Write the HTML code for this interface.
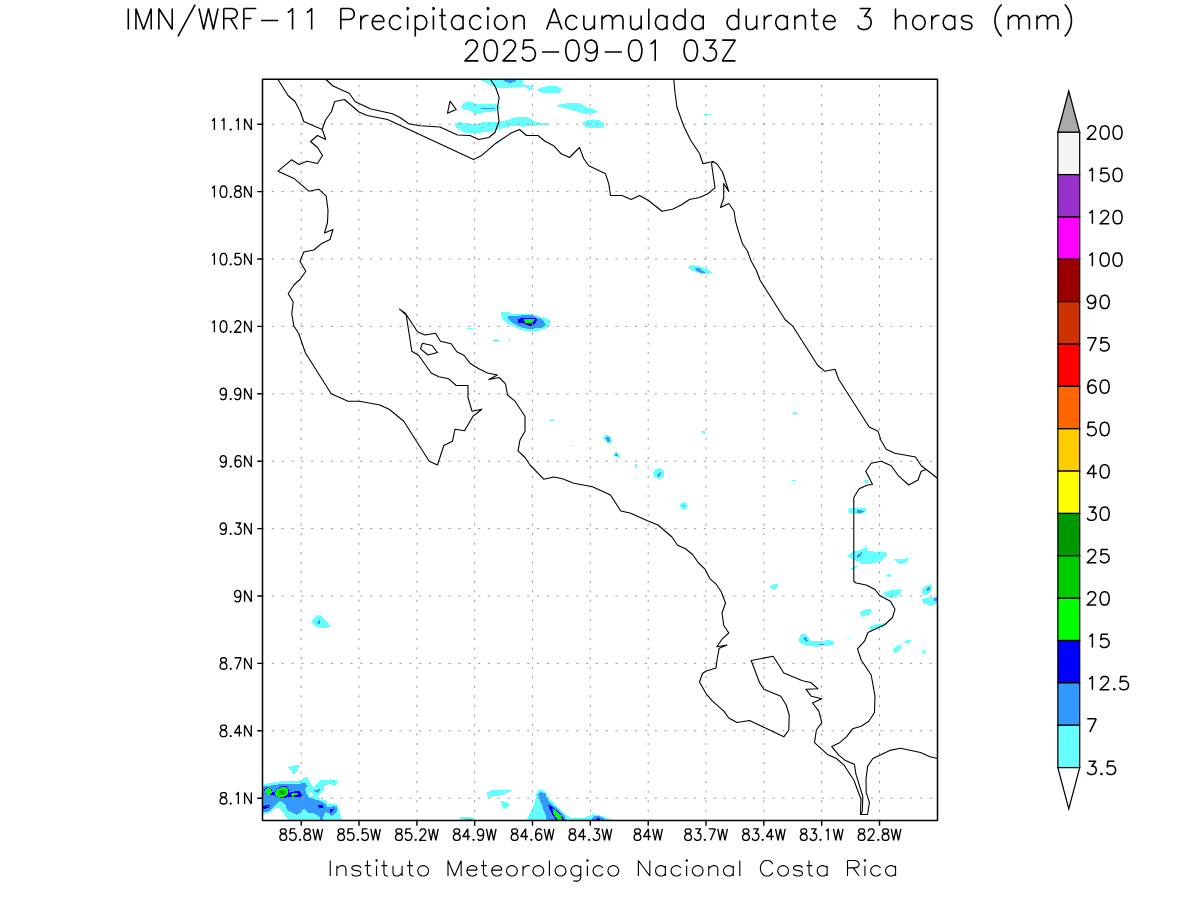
<!DOCTYPE html>
<html><head><meta charset="utf-8"><title>IMN/WRF-11 Precipitacion</title>
<style>html,body{margin:0;padding:0;background:#fff}svg{display:block}text{font-family:"Liberation Sans",sans-serif;fill:#000;fill-opacity:0}.h{fill:none;stroke-linecap:butt;stroke-linejoin:round}</style></head>
<body>
<svg width="1200" height="900" viewBox="0 0 1200 900">
<rect width="1200" height="900" fill="#fff"/>
<defs><clipPath id="c"><rect x="262.5" y="79.3" width="675" height="741.2"/></clipPath></defs>
<g clip-path="url(#c)" shape-rendering="crispEdges">
<path d="M479.7,79.5 L523.2,79.5 L522.2,84.3 L532.2,85.8 L532.7,90.0 L528.5,89.5 L524.0,86.2 L510.5,87.7 L497.7,87.7 L488.0,84.3Z" fill="#66ffff"/>
<path d="M502.2,79.5 L517.2,79.5 L515.0,81.7 L510.5,82.8 L506.0,82.2Z" fill="#3399ff"/>
<path d="M537.2,89.5 L542.0,86.7 L557.0,86.0 L560.7,88.5 L561.8,91.2 L558.5,93.4 L545.0,93.4 L539.7,91.8Z" fill="#66ffff"/>
<path d="M461.0,106.5 L464.0,102.7 L469.2,101.2 L475.2,103.5 L495.5,104.2 L500.0,106.5 L500.0,108.7 L495.5,111.0 L483.5,112.5 L475.2,114.7 L471.5,111.0 L462.5,108.7Z" fill="#66ffff"/>
<path d="M481.2,107.8 L494.7,107.8 L494.7,108.8 L481.2,108.8Z" fill="#3399ff"/>
<path d="M556.2,105.0 L567.5,103.0 L579.5,103.5 L587.0,107.2 L598.0,111.0 L594.5,113.2 L584.0,113.7 L575.0,111.0 L564.5,108.0 L558.5,106.8Z" fill="#66ffff"/>
<path d="M454.2,123.7 L459.5,122.2 L476.0,124.5 L485.0,121.5 L500.0,121.5 L507.5,120.0 L515.0,117.4 L527.0,117.0 L531.5,119.2 L536.0,122.2 L548.0,123.3 L548.3,125.2 L530.0,125.7 L524.0,126.7 L512.0,126.0 L500.0,129.0 L491.0,131.2 L474.5,133.5 L464.0,132.3 L456.5,127.5Z" fill="#66ffff"/>
<path d="M581.7,123.0 L586.2,120.3 L599.0,120.0 L603.5,123.0 L604.7,126.3 L599.0,128.2 L590.0,128.5 L584.0,126.0Z" fill="#66ffff"/>
<path d="M494.0,143.2 L500.0,142.0 L497.7,144.3Z" fill="#66ffff"/>
<path d="M704.0,113.5 L711.0,113.5 L711.0,115.0 L704.0,115.0Z" fill="#66ffff"/>
<path d="M481.8,127.0 L483.0,127.0 L483.0,128.2 L481.8,128.2Z" fill="#3399ff"/>
<path d="M687.0,267.0 L693.0,265.0 L700.0,266.5 L708.0,269.5 L712.0,272.5 L708.0,274.3 L700.0,273.7 L692.0,270.5Z" fill="#66ffff"/>
<path d="M695.0,267.5 L699.0,268.0 L705.0,272.5 L701.0,272.8 L696.0,270.5Z" fill="#3399ff"/>
<path d="M501.0,312.0 L508.0,312.0 L510.7,313.7 L532.7,314.0 L539.3,316.3 L546.7,318.3 L550.7,321.3 L550.0,325.3 L546.7,328.0 L540.0,330.7 L523.3,330.7 L515.3,327.3 L506.7,323.3 L502.7,319.3 L501.0,315.3Z" fill="#66ffff"/>
<path d="M508.0,316.3 L520.7,316.0 L521.3,315.0 L532.7,315.2 L536.7,317.3 L542.0,319.0 L546.0,324.7 L543.3,327.3 L530.0,329.0 L523.3,328.0 L516.7,324.7 L511.3,322.0 L508.0,318.7Z" fill="#3399ff"/>
<path d="M518.0,319.3 L520.7,318.0 L535.3,318.0 L537.0,319.7 L536.0,322.7 L533.3,325.7 L528.7,325.7 L524.7,324.0 L522.0,322.7 L518.0,322.7Z" fill="#0000ff"/>
<path d="M524.0,319.3 L535.0,319.1 L532.0,323.0 L525.0,323.0Z" fill="#00ff00"/>
<path d="M467.0,327.7 L472.5,327.7 L472.5,329.0 L467.0,329.0Z" fill="#66ffff"/>
<path d="M493.0,340.0 L496.0,338.8 L499.2,340.0 L499.2,341.8 L493.0,341.8Z" fill="#66ffff"/>
<path d="M508.7,338.7 L510.0,338.7 L510.0,341.3 L508.7,341.3Z" fill="#66ffff"/>
<path d="M550.0,420.0 L552.0,419.0 L554.2,419.5 L554.2,421.0 L550.0,421.0Z" fill="#66ffff"/>
<path d="M603.0,437.0 L606.0,435.0 L610.0,436.0 L612.0,440.0 L611.0,443.7 L607.0,443.0 L604.0,440.0Z" fill="#66ffff"/>
<path d="M605.5,437.0 L608.0,436.5 L610.5,439.0 L610.0,442.5 L607.0,441.5Z" fill="#3399ff"/>
<path d="M571.7,444.5 L574.2,444.5 L574.2,445.7 L571.7,445.7Z" fill="#66ffff"/>
<path d="M613.0,454.0 L616.5,451.7 L619.0,454.0 L620.0,458.2 L617.0,457.0 L614.0,456.0Z" fill="#66ffff"/>
<path d="M615.0,454.5 L616.7,453.0 L618.0,456.2 L615.5,456.0Z" fill="#3399ff"/>
<path d="M635.0,463.7 L637.0,463.7 L637.0,467.5 L635.0,467.5Z" fill="#66ffff"/>
<path d="M653.0,473.0 L655.0,469.5 L659.0,468.0 L663.0,470.0 L664.5,474.0 L662.5,477.5 L658.0,478.7 L654.5,477.0Z" fill="#66ffff"/>
<path d="M657.0,475.5 L660.5,471.5 L661.2,473.0 L658.5,477.0Z" fill="#3399ff"/>
<path d="M680.0,505.0 L681.5,503.0 L684.0,502.3 L686.3,503.0 L687.6,505.5 L687.0,507.8 L685.0,509.2 L682.5,509.2 L680.6,507.8Z" fill="#66ffff"/>
<path d="M682.5,505.0 L685.0,505.0 L685.0,506.2 L682.5,506.2Z" fill="#3399ff"/>
<path d="M701.2,431.5 L704.0,430.7 L705.7,432.0 L704.5,433.7 L702.0,433.0Z" fill="#66ffff"/>
<path d="M792.0,413.5 L794.5,412.0 L798.0,413.5 L795.0,415.0Z" fill="#66ffff"/>
<path d="M792.0,479.5 L796.2,479.5 L796.2,480.7 L792.0,480.7Z" fill="#66ffff"/>
<path d="M769.2,587.0 L773.0,584.5 L777.5,583.7 L777.5,587.0 L774.0,590.7 L772.0,588.5Z" fill="#66ffff"/>
<path d="M863.7,479.5 L868.0,480.0 L868.2,483.0 L865.0,482.5Z" fill="#66ffff"/>
<path d="M847.0,511.0 L850.0,508.0 L865.7,507.5 L865.7,512.0 L862.0,514.2 L850.0,514.0Z" fill="#66ffff"/>
<path d="M856.5,510.5 L861.0,510.0 L863.7,511.5 L861.0,513.0 L857.0,512.5Z" fill="#3399ff"/>
<path d="M847.0,555.5 L853.0,551.5 L860.0,550.0 L867.0,546.2 L868.0,551.0 L886.0,552.5 L887.5,555.0 L880.0,561.0 L870.0,564.5 L862.0,564.0 L857.0,561.0 L850.0,558.0Z" fill="#66ffff"/>
<path d="M856.2,556.0 L862.0,552.0 L861.0,556.0 L857.5,557.5Z" fill="#3399ff"/>
<path d="M849.5,568.5 L854.0,567.0 L858.0,565.0 L855.0,569.0 L852.0,570.0Z" fill="#66ffff"/>
<path d="M893.7,559.5 L902.0,559.0 L909.2,558.0 L907.0,562.0 L901.0,564.2 L897.0,563.0Z" fill="#66ffff"/>
<path d="M886.2,575.5 L890.0,573.7 L892.0,575.0 L890.0,576.7 L887.0,577.0Z" fill="#66ffff"/>
<path d="M882.0,593.0 L890.0,590.5 L900.5,589.2 L901.2,592.0 L897.0,596.5 L891.0,598.7 L886.0,596.0Z" fill="#66ffff"/>
<path d="M921.7,590.0 L926.0,586.0 L931.0,584.2 L932.5,588.0 L930.0,592.5 L925.0,595.5 L922.5,594.0Z" fill="#66ffff"/>
<path d="M926.0,589.5 L929.5,586.7 L930.5,588.0 L928.0,592.0Z" fill="#3399ff"/>
<path d="M922.0,599.0 L928.0,597.5 L937.0,596.2 L937.0,604.0 L930.0,605.0 L923.0,604.0Z" fill="#66ffff"/>
<path d="M933.7,598.5 L937.0,597.5 L937.0,601.2 L934.0,600.5Z" fill="#3399ff"/>
<path d="M860.0,612.5 L864.0,609.7 L871.0,608.7 L872.0,612.0 L868.0,615.0 L862.0,616.7Z" fill="#66ffff"/>
<path d="M869.2,627.0 L875.0,624.5 L885.5,623.2 L884.0,626.0 L877.0,629.0 L871.0,630.5Z" fill="#66ffff"/>
<path d="M798.7,638.0 L801.0,634.5 L804.5,633.7 L808.0,636.0 L811.0,641.0 L818.0,641.5 L829.0,640.0 L833.7,641.0 L833.7,645.0 L826.0,646.0 L815.0,646.7 L806.0,645.5 L800.0,642.5Z" fill="#66ffff"/>
<path d="M803.7,637.0 L806.0,636.7 L808.0,641.0 L806.0,642.0 L804.5,639.5Z" fill="#3399ff"/>
<path d="M818.7,643.7 L823.7,643.7 L823.7,645.0 L818.7,645.0Z" fill="#3399ff"/>
<path d="M904.2,641.5 L907.0,639.7 L910.7,640.2 L909.0,643.0 L905.5,643.7Z" fill="#66ffff"/>
<path d="M893.0,649.0 L896.0,646.5 L901.7,644.2 L901.0,648.5 L897.0,652.0 L894.0,653.0Z" fill="#66ffff"/>
<path d="M921.7,652.5 L925.0,650.0 L925.7,652.5 L923.0,654.2Z" fill="#66ffff"/>
<path d="M798.7,638.2 L800.0,638.2 L800.0,642.0 L798.7,642.0Z" fill="#66ffff"/>
<path d="M846.7,638.0 L849.2,638.0 L849.2,638.8 L846.7,638.8Z" fill="#66ffff"/>
<path d="M311.2,622.0 L315.0,617.0 L318.2,615.0 L322.0,616.5 L329.0,624.0 L330.0,626.5 L326.0,628.0 L320.0,628.0 L315.0,626.0Z" fill="#66ffff"/>
<path d="M316.7,622.5 L320.0,620.0 L320.5,623.7 L318.0,623.5Z" fill="#3399ff"/>
<path d="M486.7,792.5 L493.3,789.7 L513.0,790.0 L508.3,792.5 L501.7,795.3 L488.3,797.0 L486.3,794.2Z" fill="#66ffff"/>
<path d="M500.8,801.3 L506.7,801.7 L510.0,805.3 L504.2,808.8 L501.3,805.0Z" fill="#66ffff"/>
<path d="M460.0,817.0 L473.0,817.5 L475.0,820.0 L460.0,820.0Z" fill="#66ffff"/>
<path d="M465.0,818.7 L471.7,818.7 L472.0,820.0 L465.0,820.0Z" fill="#3399ff"/>
<path d="M526.7,820.0 L531.7,810.0 L535.8,798.3 L536.7,791.7 L540.0,789.2 L545.0,791.7 L549.2,798.3 L558.3,808.3 L566.7,815.0 L571.7,818.3 L583.3,818.0 L593.3,814.2 L601.7,815.8 L613.3,820.0Z" fill="#66ffff"/>
<path d="M538.0,794.2 L540.8,792.0 L545.3,793.8 L548.3,800.8 L557.5,809.2 L564.7,816.3 L566.0,820.0 L546.7,820.0 L546.0,816.0 L541.7,805.0 L538.3,795.0Z" fill="#3399ff"/>
<path d="M547.8,804.7 L550.8,805.8 L560.0,813.3 L564.2,820.0 L555.8,820.0 L550.8,811.7Z" fill="#0000ff"/>
<path d="M552.2,808.8 L555.8,810.5 L560.8,815.8 L562.0,820.0 L557.5,820.0 L553.3,813.3Z" fill="#00ff00"/>
<path d="M591.7,820.0 L593.3,816.7 L598.3,815.8 L605.0,819.2 L605.5,820.0Z" fill="#3399ff"/>
<path d="M596.3,818.7 L599.2,817.5 L600.8,820.0 L596.5,820.0Z" fill="#0000ff"/>
<path d="M261.7,785.4 L267.5,783.3 L275.8,782.1 L280.0,781.2 L296.7,781.0 L301.7,780.0 L305.0,777.1 L307.9,777.5 L309.2,780.8 L311.7,785.0 L314.2,787.1 L318.3,781.7 L321.7,779.6 L328.3,780.0 L330.8,779.2 L336.7,780.4 L337.1,784.2 L333.3,785.8 L330.0,783.8 L325.8,785.0 L323.3,786.7 L324.2,790.0 L320.0,793.3 L318.3,796.7 L320.8,800.0 L325.8,800.0 L327.5,803.3 L331.7,804.2 L335.0,803.3 L338.3,805.8 L338.8,810.8 L340.8,815.8 L342.5,820.4 L288.3,820.4 L285.8,816.7 L282.5,811.7 L278.3,808.3 L275.0,808.3 L270.8,811.7 L263.3,815.0 L261.7,815.8Z" fill="#66ffff"/>
<path d="M261.7,787.1 L265.0,786.2 L271.7,785.4 L280.0,784.2 L296.7,784.2 L301.7,783.3 L306.2,783.2 L306.7,786.7 L305.0,790.0 L306.7,794.2 L309.2,797.5 L313.3,799.2 L318.3,800.0 L325.0,803.3 L326.7,806.7 L330.0,807.5 L333.3,805.4 L337.1,807.5 L337.1,811.7 L334.2,814.2 L331.7,815.8 L328.3,813.3 L325.8,811.2 L323.3,816.7 L322.5,820.4 L320.8,820.4 L319.2,815.8 L313.3,813.3 L308.3,813.3 L304.2,808.3 L300.0,813.3 L296.7,814.6 L291.7,812.5 L287.5,810.0 L285.0,804.2 L282.5,801.7 L279.2,801.2 L275.0,805.0 L270.8,809.6 L267.5,812.1 L261.7,812.5Z" fill="#3399ff"/>
<path d="M307.9,793.3 L310.4,792.1 L312.9,793.8 L312.5,795.8 L309.6,796.2Z" fill="#ffffff"/>
<path d="M314.2,790.4 L319.6,789.2 L320.0,790.8 L317.1,792.9Z" fill="#3399ff"/>
<path d="M332.9,781.0 L333.8,781.0 L333.8,782.0 L332.9,782.0Z" fill="#3399ff"/>
<path d="M264.2,789.2 L267.5,787.2 L271.2,788.8 L272.5,791.7 L275.0,791.7 L276.8,789.0 L280.8,786.4 L286.7,786.4 L288.5,789.2 L289.0,792.9 L294.2,791.4 L300.0,791.4 L302.9,796.2 L293.3,797.5 L288.3,796.5 L283.8,798.2 L278.8,797.3 L274.6,795.4 L272.5,794.6 L269.2,795.4 L265.0,793.3Z" fill="#0000ff"/>
<path d="M265.0,789.6 L267.5,787.9 L270.4,789.2 L272.1,792.1 L270.0,794.6 L267.1,794.6 L265.2,792.1Z" fill="#00ff00"/>
<path d="M275.0,792.5 L277.1,789.2 L281.7,787.1 L286.2,787.5 L287.9,790.0 L288.3,792.9 L285.8,795.8 L281.7,797.3 L278.8,796.7 L275.4,795.0Z" fill="#00ff00"/>
<path d="M277.1,792.5 L279.2,790.0 L282.5,788.8 L285.4,790.0 L286.2,792.9 L283.8,795.4 L280.0,795.4Z" fill="#00cc00"/>
<path d="M279.2,792.1 L281.7,790.4 L284.2,791.2 L284.6,793.3 L281.7,794.6Z" fill="#009900"/>
<path d="M290.8,793.8 L294.2,792.5 L295.8,793.3 L298.8,793.2 L296.7,794.6 L293.3,795.7 L292.5,797.1 L291.7,795.4Z" fill="#00ff00"/>
<path d="M261.7,806.7 L265.8,805.0 L270.0,805.4 L268.3,807.9 L265.0,808.8 L261.7,808.3Z" fill="#0000ff"/>
<path d="M266.9,806.5 L267.5,805.9 L268.1,806.5 L267.5,807.1Z" fill="#00ff00"/>
<path d="M317.9,805.2 L322.9,805.0 L322.5,807.5 L320.0,807.9 L318.3,806.7Z" fill="#0000ff"/>
<path d="M330.0,809.3 L334.0,809.0 L332.1,811.7 L330.0,813.2Z" fill="#0000ff"/>
<path d="M287.9,767.5 L290.8,766.2 L295.8,765.2 L300.0,765.0 L298.3,768.8 L296.7,772.1 L295.0,773.8 L292.5,773.8 L291.7,770.8 L289.2,769.6Z" fill="#66ffff"/>
</g>
<g stroke="#9c9c9c" stroke-width="1" fill="none">
<path d="M262.0,124.2H937.5" stroke-dasharray="2.2 7.6187"/>
<path d="M262.0,191.6H937.5" stroke-dasharray="2.2 7.6187"/>
<path d="M262.0,259.0H937.5" stroke-dasharray="2.2 7.6187"/>
<path d="M262.0,326.4H937.5" stroke-dasharray="2.2 7.6187"/>
<path d="M262.0,393.8H937.5" stroke-dasharray="2.2 7.6187"/>
<path d="M262.0,461.2H937.5" stroke-dasharray="2.2 7.6187"/>
<path d="M262.0,528.6H937.5" stroke-dasharray="2.2 7.6187"/>
<path d="M262.0,596.0H937.5" stroke-dasharray="2.2 7.6187"/>
<path d="M262.0,663.4H937.5" stroke-dasharray="2.2 7.6187"/>
<path d="M262.0,730.8H937.5" stroke-dasharray="2.2 7.6187"/>
<path d="M262.0,798.2H937.5" stroke-dasharray="2.2 7.6187"/>
<path d="M301.2,821.4V79.3" stroke-dasharray="2.2 7.337"/>
<path d="M359.0,821.4V79.3" stroke-dasharray="2.2 7.337"/>
<path d="M416.9,821.4V79.3" stroke-dasharray="2.2 7.337"/>
<path d="M474.7,821.4V79.3" stroke-dasharray="2.2 7.337"/>
<path d="M532.5,821.4V79.3" stroke-dasharray="2.2 7.337"/>
<path d="M590.3,821.4V79.3" stroke-dasharray="2.2 7.337"/>
<path d="M648.2,821.4V79.3" stroke-dasharray="2.2 7.337"/>
<path d="M706.0,821.4V79.3" stroke-dasharray="2.2 7.337"/>
<path d="M763.8,821.4V79.3" stroke-dasharray="2.2 7.337"/>
<path d="M821.7,821.4V79.3" stroke-dasharray="2.2 7.337"/>
<path d="M879.5,821.4V79.3" stroke-dasharray="2.2 7.337"/>
</g>
<g clip-path="url(#c)" stroke="#000" stroke-width="1.1" fill="none" stroke-linejoin="round">
<path d="M278.0,79.5 L288.0,95.5 L295.0,101.5 L300.5,112.0 L303.7,121.5 L322.2,129.5 L325.8,139.5 L317.5,135.5 L310.5,141.5 L317.5,147.5 L322.5,155.5 L317.5,163.5 L307.0,161.2 L299.0,164.5 L291.5,159.8 L278.0,171.2 L294.5,178.8 L308.8,191.2 L318.8,189.2 L326.2,196.2 L328.0,210.0 L327.5,222.5 L324.5,233.0 L333.0,229.5 L330.0,239.5 L321.2,243.8 L313.8,250.0 L303.8,252.0 L300.0,261.2 L305.8,271.2 L300.0,279.5 L293.8,285.0 L288.2,293.8 L293.2,302.0 L291.8,313.8 L293.8,325.8 L298.8,333.8 L305.5,353.0 L331.2,393.8 L348.0,401.2 L359.5,401.2 L380.0,405.0 L389.5,409.5 L403.8,421.2 L429.2,461.2 L437.5,465.0 L443.8,445.5 L452.5,441.2 L455.0,429.2 L464.5,430.8 L473.0,416.2 L481.8,409.2 L472.0,411.2 L468.0,397.5 L468.0,385.5 L456.2,385.5 L448.8,378.8 L438.8,376.8 L431.2,373.0 L418.8,355.5 L411.8,351.2 L406.2,315.0 L399.5,309.2 L405.0,313.0 L407.0,315.8 L417.5,331.8 L425.0,335.0 L435.5,333.2 L440.5,341.2 L451.2,343.8 L456.8,351.8 L464.2,355.5 L470.0,363.2 L478.8,368.8 L487.5,373.0 L497.5,375.0 L488.8,379.5 L499.2,377.5 L505.5,383.8 L507.5,395.0 L515.0,401.2 L525.0,416.2 L525.0,431.2 L520.0,440.0 L518.0,450.8 L525.0,457.5 L530.0,465.0 L543.8,479.2 L553.8,477.0 L562.5,478.8 L573.8,483.2 L592.5,486.8 L610.5,495.0 L620.8,511.0 L630.0,513.0 L647.5,520.8 L658.0,525.0 L672.0,537.0 L677.5,545.2 L685.5,548.8 L692.5,554.5 L698.2,562.5 L705.0,569.2 L710.0,578.8 L716.2,584.2 L721.2,591.8 L725.5,603.0 L722.0,613.0 L723.8,625.5 L728.8,633.0 L722.0,639.2 L716.8,646.8 L727.0,645.0 L719.2,648.2 L717.0,660.0 L716.0,668.0 L706.2,671.0 L702.5,673.5 L699.5,682.0 L706.2,693.8 L712.5,701.2 L723.8,711.2 L728.8,718.0 L737.0,722.5 L749.5,720.5 L783.8,736.8 L788.8,730.0 L789.2,715.0 L786.2,705.0 L780.8,696.2 L763.8,689.2 L759.5,682.5 L751.2,660.5 L773.2,656.2 L783.8,673.0 L802.5,680.8 L810.8,682.5 L818.0,688.8 L805.8,689.2 L811.2,696.2 L821.8,698.8 L812.5,703.0 L818.8,711.2 L821.8,722.5 L816.4,730.0 L814.5,742.7 L828.0,754.8 L836.4,758.5 L843.8,764.8 L853.9,780.2 L861.0,799.2 L860.4,814.5 L867.6,814.5 L869.4,802.3 L866.2,792.3 L866.0,779.1 L867.6,766.4 L872.9,758.5 L889.8,750.4 L900.5,748.2 L920.5,752.5 L930.0,756.8 L937.5,758.5"/>
<path d="M326.0,79.5 L333.0,86.0 L349.5,93.5 L355.2,101.7 L371.0,109.0 L392.5,113.8 L400.0,117.5 L408.8,123.8 L420.0,125.8 L440.0,127.0 L457.5,135.0 L470.0,135.5 L478.8,139.5 L488.8,137.5 L495.0,132.5 L499.0,121.2 L497.5,107.5 L499.2,97.5 L495.5,87.0 L490.5,79.5"/>
<path d="M450.0,101.2 L456.2,109.5 L447.5,113.2Z"/>
<path d="M322.2,129.5 L325.5,120.0 L331.5,111.5 L334.7,101.5 L344.5,99.5 L359.0,112.0 L367.2,115.5 L387.5,119.5 L473.5,159.5 L481.2,155.8 L495.0,143.8 L511.2,133.0 L519.5,129.5 L526.5,135.5 L538.0,135.5 L545.0,141.2 L553.8,145.8 L561.2,153.8 L569.5,157.5 L579.5,147.5 L583.8,158.8 L588.8,165.8 L605.5,173.8 L608.8,183.8 L610.5,195.5 L622.0,195.5 L631.2,199.5 L639.5,195.5 L648.8,200.8 L662.0,211.2 L672.5,209.2 L681.2,205.0 L689.5,199.5 L699.5,197.5 L707.5,194.0 L715.0,187.8 L711.5,163.5 L713.0,161.8"/>
<path d="M673.8,79.5 L675.0,92.5 L677.0,107.5 L683.8,126.2 L690.5,140.0 L699.5,153.5 L703.0,163.7 L713.0,161.5 L717.0,164.0 L722.5,172.0 L728.8,191.5 L723.7,183.5 L723.7,198.0 L720.5,207.5 L728.8,203.5 L734.0,211.0 L735.5,221.0 L738.0,229.8 L742.5,243.8 L747.5,251.2 L751.2,261.2 L756.2,270.0 L760.0,280.0 L785.0,319.5 L792.5,325.8 L817.5,365.0 L824.5,371.2 L835.0,369.2 L838.8,379.5 L869.2,427.0 L878.0,431.2 L881.2,440.8 L886.2,449.2 L895.0,453.2 L915.5,457.0 L921.2,465.8 L926.2,469.5 L937.5,478.2"/>
<path d="M422.5,343.2 L432.0,345.5 L437.5,352.5 L428.0,355.0 L420.5,348.8Z"/>
<path d="M926.2,469.5 L921.2,471.2 L918.0,480.0 L908.8,485.0 L898.8,476.2 L891.2,465.8 L881.2,461.2 L871.2,463.2 L865.8,471.2 L872.5,484.5 L867.5,485.0 L859.2,488.8 L853.8,497.5 L853.8,581.2 L856.2,583.0 L866.2,585.0 L875.0,589.5 L880.0,595.8 L890.5,601.2 L895.0,609.2 L892.5,617.5 L885.0,624.5 L868.0,632.5 L864.5,641.2 L857.5,648.8 L861.2,660.0 L871.2,675.0 L875.0,696.2 L874.5,712.5 L868.8,721.2 L861.2,726.2 L852.5,728.8 L846.5,736.9 L839.6,742.7 L831.7,746.6 L839.1,755.3 L845.4,760.6 L854.4,764.3 L856.0,774.4 L862.8,796.5 L862.3,811.3 L861.2,814.0"/>
</g>
<g stroke="#000" fill="none">
<rect x="262.5" y="79.3" width="675" height="741.2" stroke-width="1.5" stroke-linejoin="round"/>
<path d="M257.3,124.2H262.5M257.3,191.6H262.5M257.3,259.0H262.5M257.3,326.4H262.5M257.3,393.8H262.5M257.3,461.2H262.5M257.3,528.6H262.5M257.3,596.0H262.5M257.3,663.4H262.5M257.3,730.8H262.5M257.3,798.2H262.5M301.2,820.5V825.7M359.0,820.5V825.7M416.9,820.5V825.7M474.7,820.5V825.7M532.5,820.5V825.7M590.3,820.5V825.7M648.2,820.5V825.7M706.0,820.5V825.7M763.8,820.5V825.7M821.7,820.5V825.7M879.5,820.5V825.7" stroke-width="1.4"/>
</g>
<g class="h">
<path d="M212.01,120.73L212.96,120.19L214.40,118.56L214.40,130.00M221.59,120.73L222.54,120.19L223.98,118.56L223.98,130.00M230.69,128.91L230.21,129.46L230.69,130.00L231.17,129.46L230.69,128.91M235.96,120.73L236.91,120.19L238.35,118.56L238.35,130.00M244.58,118.56L244.58,130.00M244.58,118.56L251.28,130.00M251.28,118.56L251.28,130.00" stroke="#000" stroke-width="1.35"/>
<path d="M212.01,188.14L212.96,187.59L214.40,185.96L214.40,197.40M223.02,185.96L221.59,186.50L220.63,188.14L220.15,190.86L220.15,192.50L220.63,195.22L221.59,196.86L223.02,197.40L223.98,197.40L225.42,196.86L226.38,195.22L226.86,192.50L226.86,190.86L226.38,188.14L225.42,186.50L223.98,185.96L223.02,185.96M230.69,196.31L230.21,196.86L230.69,197.40L231.17,196.86L230.69,196.31M236.91,185.96L235.48,186.50L235.00,187.59L235.00,188.68L235.48,189.77L236.44,190.32L238.35,190.86L239.79,191.41L240.75,192.50L241.23,193.59L241.23,195.22L240.75,196.31L240.27,196.86L238.83,197.40L236.91,197.40L235.48,196.86L235.00,196.31L234.52,195.22L234.52,193.59L235.00,192.50L235.96,191.41L237.39,190.86L239.31,190.32L240.27,189.77L240.75,188.68L240.75,187.59L240.27,186.50L238.83,185.96L236.91,185.96M244.58,185.96L244.58,197.40M244.58,185.96L251.28,197.40M251.28,185.96L251.28,197.40" stroke="#000" stroke-width="1.35"/>
<path d="M212.01,255.54L212.96,254.99L214.40,253.36L214.40,264.80M223.02,253.36L221.59,253.90L220.63,255.54L220.15,258.26L220.15,259.90L220.63,262.62L221.59,264.25L223.02,264.80L223.98,264.80L225.42,264.25L226.38,262.62L226.86,259.90L226.86,258.26L226.38,255.54L225.42,253.90L223.98,253.36L223.02,253.36M230.69,263.71L230.21,264.25L230.69,264.80L231.17,264.25L230.69,263.71M240.27,253.36L235.48,253.36L235.00,258.26L235.48,257.72L236.91,257.17L238.35,257.17L239.79,257.72L240.75,258.81L241.23,260.44L241.23,261.53L240.75,263.17L239.79,264.25L238.35,264.80L236.91,264.80L235.48,264.25L235.00,263.71L234.52,262.62M244.58,253.36L244.58,264.80M244.58,253.36L251.28,264.80M251.28,253.36L251.28,264.80" stroke="#000" stroke-width="1.35"/>
<path d="M212.01,322.94L212.96,322.39L214.40,320.76L214.40,332.20M223.02,320.76L221.59,321.30L220.63,322.94L220.15,325.66L220.15,327.30L220.63,330.02L221.59,331.66L223.02,332.20L223.98,332.20L225.42,331.66L226.38,330.02L226.86,327.30L226.86,325.66L226.38,322.94L225.42,321.30L223.98,320.76L223.02,320.76M230.69,331.11L230.21,331.66L230.69,332.20L231.17,331.66L230.69,331.11M235.00,323.48L235.00,322.94L235.48,321.85L235.96,321.30L236.91,320.76L238.83,320.76L239.79,321.30L240.27,321.85L240.75,322.94L240.75,324.03L240.27,325.12L239.31,326.75L234.52,332.20L241.23,332.20M244.58,320.76L244.58,332.20M244.58,320.76L251.28,332.20M251.28,320.76L251.28,332.20" stroke="#000" stroke-width="1.35"/>
<path d="M226.38,391.97L225.90,393.61L224.94,394.70L223.50,395.24L223.02,395.24L221.59,394.70L220.63,393.61L220.15,391.97L220.15,391.43L220.63,389.79L221.59,388.70L223.02,388.16L223.50,388.16L224.94,388.70L225.90,389.79L226.38,391.97L226.38,394.70L225.90,397.42L224.94,399.06L223.50,399.60L222.54,399.60L221.11,399.06L220.63,397.97M230.69,398.51L230.21,399.06L230.69,399.60L231.17,399.06L230.69,398.51M240.75,391.97L240.27,393.61L239.31,394.70L237.87,395.24L237.39,395.24L235.96,394.70L235.00,393.61L234.52,391.97L234.52,391.43L235.00,389.79L235.96,388.70L237.39,388.16L237.87,388.16L239.31,388.70L240.27,389.79L240.75,391.97L240.75,394.70L240.27,397.42L239.31,399.06L237.87,399.60L236.91,399.60L235.48,399.06L235.00,397.97M244.58,388.16L244.58,399.60M244.58,388.16L251.28,399.60M251.28,388.16L251.28,399.60" stroke="#000" stroke-width="1.35"/>
<path d="M226.38,459.37L225.90,461.00L224.94,462.10L223.50,462.64L223.02,462.64L221.59,462.10L220.63,461.00L220.15,459.37L220.15,458.82L220.63,457.19L221.59,456.10L223.02,455.56L223.50,455.56L224.94,456.10L225.90,457.19L226.38,459.37L226.38,462.10L225.90,464.82L224.94,466.45L223.50,467.00L222.54,467.00L221.11,466.45L220.63,465.37M230.69,465.91L230.21,466.45L230.69,467.00L231.17,466.45L230.69,465.91M240.75,457.19L240.27,456.10L238.83,455.56L237.87,455.56L236.44,456.10L235.48,457.74L235.00,460.46L235.00,463.19L235.48,465.37L236.44,466.45L237.87,467.00L238.35,467.00L239.79,466.45L240.75,465.37L241.22,463.73L241.22,463.19L240.75,461.55L239.79,460.46L238.35,459.92L237.87,459.92L236.44,460.46L235.48,461.55L235.00,463.19M244.58,455.56L244.58,467.00M244.58,455.56L251.28,467.00M251.28,455.56L251.28,467.00" stroke="#000" stroke-width="1.35"/>
<path d="M226.38,526.77L225.90,528.40L224.94,529.50L223.50,530.04L223.02,530.04L221.59,529.50L220.63,528.40L220.15,526.77L220.15,526.23L220.63,524.59L221.59,523.50L223.02,522.95L223.50,522.95L224.94,523.50L225.90,524.59L226.38,526.77L226.38,529.50L225.90,532.22L224.94,533.86L223.50,534.40L222.54,534.40L221.11,533.86L220.63,532.76M230.69,533.31L230.21,533.86L230.69,534.40L231.17,533.86L230.69,533.31M235.48,522.95L240.75,522.95L237.87,527.31L239.31,527.31L240.27,527.86L240.75,528.40L241.22,530.04L241.22,531.13L240.75,532.76L239.79,533.86L238.35,534.40L236.91,534.40L235.48,533.86L235.00,533.31L234.52,532.22M244.58,522.95L244.58,534.40M244.58,522.95L251.28,534.40M251.28,522.95L251.28,534.40" stroke="#000" stroke-width="1.35"/>
<path d="M240.75,594.17L240.27,595.81L239.31,596.90L237.87,597.44L237.39,597.44L235.96,596.90L235.00,595.81L234.52,594.17L234.52,593.63L235.00,591.99L235.96,590.90L237.39,590.36L237.87,590.36L239.31,590.90L240.27,591.99L240.75,594.17L240.75,596.90L240.27,599.62L239.31,601.26L237.87,601.80L236.91,601.80L235.48,601.26L235.00,600.17M244.58,590.36L244.58,601.80M244.58,590.36L251.28,601.80M251.28,590.36L251.28,601.80" stroke="#000" stroke-width="1.35"/>
<path d="M222.54,657.75L221.11,658.30L220.63,659.39L220.63,660.48L221.11,661.57L222.06,662.12L223.98,662.66L225.42,663.21L226.38,664.30L226.85,665.38L226.85,667.02L226.38,668.11L225.90,668.66L224.46,669.20L222.54,669.20L221.11,668.66L220.63,668.11L220.15,667.02L220.15,665.38L220.63,664.30L221.59,663.21L223.02,662.66L224.94,662.12L225.90,661.57L226.38,660.48L226.38,659.39L225.90,658.30L224.46,657.75L222.54,657.75M230.69,668.11L230.21,668.66L230.69,669.20L231.17,668.66L230.69,668.11M241.22,657.75L236.44,669.20M234.52,657.75L241.22,657.75M244.58,657.75L244.58,669.20M244.58,657.75L251.28,669.20M251.28,657.75L251.28,669.20" stroke="#000" stroke-width="1.35"/>
<path d="M222.54,725.15L221.11,725.70L220.63,726.79L220.63,727.88L221.11,728.97L222.06,729.51L223.98,730.06L225.42,730.61L226.38,731.70L226.85,732.78L226.85,734.42L226.38,735.51L225.90,736.06L224.46,736.60L222.54,736.60L221.11,736.06L220.63,735.51L220.15,734.42L220.15,732.78L220.63,731.70L221.59,730.61L223.02,730.06L224.94,729.51L225.90,728.97L226.38,727.88L226.38,726.79L225.90,725.70L224.46,725.15L222.54,725.15M230.69,735.51L230.21,736.06L230.69,736.60L231.17,736.06L230.69,735.51M239.31,725.15L234.52,732.78L241.70,732.78M239.31,725.15L239.31,736.60M244.58,725.15L244.58,736.60M244.58,725.15L251.28,736.60M251.28,725.15L251.28,736.60" stroke="#000" stroke-width="1.35"/>
<path d="M222.54,792.55L221.11,793.10L220.63,794.19L220.63,795.28L221.11,796.37L222.06,796.91L223.98,797.46L225.42,798.00L226.38,799.10L226.85,800.18L226.85,801.82L226.38,802.91L225.90,803.46L224.46,804.00L222.54,804.00L221.11,803.46L220.63,802.91L220.15,801.82L220.15,800.18L220.63,799.10L221.59,798.00L223.02,797.46L224.94,796.91L225.90,796.37L226.38,795.28L226.38,794.19L225.90,793.10L224.46,792.55L222.54,792.55M230.69,802.91L230.21,803.46L230.69,804.00L231.17,803.46L230.69,802.91M235.96,794.74L236.91,794.19L238.35,792.55L238.35,804.00M244.58,792.55L244.58,804.00M244.58,792.55L251.28,804.00M251.28,792.55L251.28,804.00" stroke="#000" stroke-width="1.35"/>
<path d="M282.32,828.85L280.88,829.40L280.40,830.49L280.40,831.58L280.88,832.67L281.84,833.21L283.76,833.76L285.19,834.30L286.15,835.39L286.63,836.48L286.63,838.12L286.15,839.21L285.67,839.75L284.24,840.30L282.32,840.30L280.88,839.75L280.40,839.21L279.92,838.12L279.92,836.48L280.40,835.39L281.36,834.30L282.80,833.76L284.71,833.21L285.67,832.67L286.15,831.58L286.15,830.49L285.67,829.40L284.24,828.85L282.32,828.85M295.25,828.85L290.46,828.85L289.98,833.76L290.46,833.21L291.90,832.67L293.34,832.67L294.77,833.21L295.73,834.30L296.21,835.94L296.21,837.03L295.73,838.66L294.77,839.75L293.34,840.30L291.90,840.30L290.46,839.75L289.98,839.21L289.50,838.12M300.04,839.21L299.56,839.75L300.04,840.30L300.52,839.75L300.04,839.21M306.27,828.85L304.83,829.40L304.35,830.49L304.35,831.58L304.83,832.67L305.79,833.21L307.71,833.76L309.14,834.30L310.10,835.39L310.58,836.48L310.58,838.12L310.10,839.21L309.62,839.75L308.19,840.30L306.27,840.30L304.83,839.75L304.35,839.21L303.87,838.12L303.87,836.48L304.35,835.39L305.31,834.30L306.75,833.76L308.66,833.21L309.62,832.67L310.10,831.58L310.10,830.49L309.62,829.40L308.19,828.85L306.27,828.85M312.98,828.85L315.37,840.30M317.76,828.85L315.37,840.30M317.76,828.85L320.16,840.30M322.56,828.85L320.16,840.30" stroke="#000" stroke-width="1.35"/>
<path d="M340.15,828.85L338.71,829.40L338.23,830.49L338.23,831.58L338.71,832.67L339.67,833.21L341.59,833.76L343.02,834.30L343.98,835.39L344.46,836.48L344.46,838.12L343.98,839.21L343.50,839.75L342.06,840.30L340.15,840.30L338.71,839.75L338.23,839.21L337.75,838.12L337.75,836.48L338.23,835.39L339.19,834.30L340.63,833.76L342.54,833.21L343.50,832.67L343.98,831.58L343.98,830.49L343.50,829.40L342.06,828.85L340.15,828.85M353.08,828.85L348.29,828.85L347.81,833.76L348.29,833.21L349.73,832.67L351.17,832.67L352.60,833.21L353.56,834.30L354.04,835.94L354.04,837.03L353.56,838.66L352.60,839.75L351.17,840.30L349.73,840.30L348.29,839.75L347.81,839.21L347.33,838.12M357.87,839.21L357.39,839.75L357.87,840.30L358.35,839.75L357.87,839.21M367.45,828.85L362.66,828.85L362.18,833.76L362.66,833.21L364.10,832.67L365.54,832.67L366.97,833.21L367.93,834.30L368.41,835.94L368.41,837.03L367.93,838.66L366.97,839.75L365.54,840.30L364.10,840.30L362.66,839.75L362.18,839.21L361.70,838.12M370.81,828.85L373.20,840.30M375.59,828.85L373.20,840.30M375.59,828.85L377.99,840.30M380.38,828.85L377.99,840.30" stroke="#000" stroke-width="1.35"/>
<path d="M397.98,828.85L396.54,829.40L396.06,830.49L396.06,831.58L396.54,832.67L397.50,833.21L399.42,833.76L400.85,834.30L401.81,835.39L402.29,836.48L402.29,838.12L401.81,839.21L401.33,839.75L399.90,840.30L397.98,840.30L396.54,839.75L396.06,839.21L395.58,838.12L395.58,836.48L396.06,835.39L397.02,834.30L398.46,833.76L400.37,833.21L401.33,832.67L401.81,831.58L401.81,830.49L401.33,829.40L399.90,828.85L397.98,828.85M410.91,828.85L406.12,828.85L405.64,833.76L406.12,833.21L407.56,832.67L409.00,832.67L410.43,833.21L411.39,834.30L411.87,835.94L411.87,837.03L411.39,838.66L410.43,839.75L409.00,840.30L407.56,840.30L406.12,839.75L405.64,839.21L405.16,838.12M415.70,839.21L415.22,839.75L415.70,840.30L416.18,839.75L415.70,839.21M420.01,831.58L420.01,831.03L420.49,829.94L420.97,829.40L421.93,828.85L423.85,828.85L424.80,829.40L425.28,829.94L425.76,831.03L425.76,832.12L425.28,833.21L424.32,834.85L419.53,840.30L426.24,840.30M428.64,828.85L431.03,840.30M433.43,828.85L431.03,840.30M433.43,828.85L435.82,840.30M438.22,828.85L435.82,840.30" stroke="#000" stroke-width="1.35"/>
<path d="M455.81,828.85L454.37,829.40L453.89,830.49L453.89,831.58L454.37,832.67L455.33,833.21L457.25,833.76L458.68,834.30L459.64,835.39L460.12,836.48L460.12,838.12L459.64,839.21L459.16,839.75L457.73,840.30L455.81,840.30L454.37,839.75L453.89,839.21L453.41,838.12L453.41,836.48L453.89,835.39L454.85,834.30L456.29,833.76L458.20,833.21L459.16,832.67L459.64,831.58L459.64,830.49L459.16,829.40L457.73,828.85L455.81,828.85M467.78,828.85L462.99,836.48L470.18,836.48M467.78,828.85L467.78,840.30M473.53,839.21L473.05,839.75L473.53,840.30L474.01,839.75L473.53,839.21M483.59,832.67L483.11,834.30L482.15,835.39L480.72,835.94L480.24,835.94L478.80,835.39L477.84,834.30L477.36,832.67L477.36,832.12L477.84,830.49L478.80,829.40L480.24,828.85L480.72,828.85L482.15,829.40L483.11,830.49L483.59,832.67L483.59,835.39L483.11,838.12L482.15,839.75L480.72,840.30L479.76,840.30L478.32,839.75L477.84,838.66M486.47,828.85L488.86,840.30M491.25,828.85L488.86,840.30M491.25,828.85L493.65,840.30M496.05,828.85L493.65,840.30" stroke="#000" stroke-width="1.35"/>
<path d="M513.64,828.85L512.20,829.40L511.72,830.49L511.72,831.58L512.20,832.67L513.16,833.21L515.08,833.76L516.51,834.30L517.47,835.39L517.95,836.48L517.95,838.12L517.47,839.21L516.99,839.75L515.55,840.30L513.64,840.30L512.20,839.75L511.72,839.21L511.24,838.12L511.24,836.48L511.72,835.39L512.68,834.30L514.12,833.76L516.03,833.21L516.99,832.67L517.47,831.58L517.47,830.49L516.99,829.40L515.55,828.85L513.64,828.85M525.61,828.85L520.82,836.48L528.01,836.48M525.61,828.85L525.61,840.30M531.36,839.21L530.88,839.75L531.36,840.30L531.84,839.75L531.36,839.21M541.42,830.49L540.94,829.40L539.50,828.85L538.55,828.85L537.11,829.40L536.15,831.03L535.67,833.76L535.67,836.48L536.15,838.66L537.11,839.75L538.55,840.30L539.03,840.30L540.46,839.75L541.42,838.66L541.90,837.03L541.90,836.48L541.42,834.85L540.46,833.76L539.03,833.21L538.55,833.21L537.11,833.76L536.15,834.85L535.67,836.48M544.29,828.85L546.69,840.30M549.09,828.85L546.69,840.30M549.09,828.85L551.48,840.30M553.88,828.85L551.48,840.30" stroke="#000" stroke-width="1.35"/>
<path d="M571.47,828.85L570.03,829.40L569.55,830.49L569.55,831.58L570.03,832.67L570.99,833.21L572.91,833.76L574.34,834.30L575.30,835.39L575.78,836.48L575.78,838.12L575.30,839.21L574.82,839.75L573.38,840.30L571.47,840.30L570.03,839.75L569.55,839.21L569.07,838.12L569.07,836.48L569.55,835.39L570.51,834.30L571.95,833.76L573.86,833.21L574.82,832.67L575.30,831.58L575.30,830.49L574.82,829.40L573.38,828.85L571.47,828.85M583.44,828.85L578.65,836.48L585.84,836.48M583.44,828.85L583.44,840.30M589.19,839.21L588.71,839.75L589.19,840.30L589.67,839.75L589.19,839.21M593.98,828.85L599.25,828.85L596.38,833.21L597.81,833.21L598.77,833.76L599.25,834.30L599.73,835.94L599.73,837.03L599.25,838.66L598.29,839.75L596.86,840.30L595.42,840.30L593.98,839.75L593.50,839.21L593.02,838.12M602.12,828.85L604.52,840.30M606.91,828.85L604.52,840.30M606.91,828.85L609.31,840.30M611.70,828.85L609.31,840.30" stroke="#000" stroke-width="1.35"/>
<path d="M636.48,828.85L635.05,829.40L634.57,830.49L634.57,831.58L635.05,832.67L636.00,833.21L637.92,833.76L639.36,834.30L640.32,835.39L640.80,836.48L640.80,838.12L640.32,839.21L639.84,839.75L638.40,840.30L636.48,840.30L635.05,839.75L634.57,839.21L634.09,838.12L634.09,836.48L634.57,835.39L635.53,834.30L636.96,833.76L638.88,833.21L639.84,832.67L640.32,831.58L640.32,830.49L639.84,829.40L638.40,828.85L636.48,828.85M648.46,828.85L643.67,836.48L650.85,836.48M648.46,828.85L648.46,840.30M652.77,828.85L655.17,840.30M657.56,828.85L655.17,840.30M657.56,828.85L659.96,840.30M662.35,828.85L659.96,840.30" stroke="#000" stroke-width="1.35"/>
<path d="M687.13,828.85L685.69,829.40L685.21,830.49L685.21,831.58L685.69,832.67L686.65,833.21L688.57,833.76L690.00,834.30L690.96,835.39L691.44,836.48L691.44,838.12L690.96,839.21L690.48,839.75L689.04,840.30L687.13,840.30L685.69,839.75L685.21,839.21L684.73,838.12L684.73,836.48L685.21,835.39L686.17,834.30L687.61,833.76L689.52,833.21L690.48,832.67L690.96,831.58L690.96,830.49L690.48,829.40L689.04,828.85L687.13,828.85M695.27,828.85L700.54,828.85L697.67,833.21L699.10,833.21L700.06,833.76L700.54,834.30L701.02,835.94L701.02,837.03L700.54,838.66L699.58,839.75L698.15,840.30L696.71,840.30L695.27,839.75L694.79,839.21L694.31,838.12M704.85,839.21L704.37,839.75L704.85,840.30L705.33,839.75L704.85,839.21M715.39,828.85L710.60,840.30M708.68,828.85L715.39,828.85M717.78,828.85L720.18,840.30M722.58,828.85L720.18,840.30M722.58,828.85L724.97,840.30M727.37,828.85L724.97,840.30" stroke="#000" stroke-width="1.35"/>
<path d="M744.96,828.85L743.52,829.40L743.04,830.49L743.04,831.58L743.52,832.67L744.48,833.21L746.40,833.76L747.83,834.30L748.79,835.39L749.27,836.48L749.27,838.12L748.79,839.21L748.31,839.75L746.87,840.30L744.96,840.30L743.52,839.75L743.04,839.21L742.56,838.12L742.56,836.48L743.04,835.39L744.00,834.30L745.44,833.76L747.35,833.21L748.31,832.67L748.79,831.58L748.79,830.49L748.31,829.40L746.87,828.85L744.96,828.85M753.10,828.85L758.37,828.85L755.50,833.21L756.93,833.21L757.89,833.76L758.37,834.30L758.85,835.94L758.85,837.03L758.37,838.66L757.41,839.75L755.98,840.30L754.54,840.30L753.10,839.75L752.62,839.21L752.14,838.12M762.68,839.21L762.20,839.75L762.68,840.30L763.16,839.75L762.68,839.21M771.30,828.85L766.51,836.48L773.70,836.48M771.30,828.85L771.30,840.30M775.61,828.85L778.01,840.30M780.40,828.85L778.01,840.30M780.40,828.85L782.80,840.30M785.19,828.85L782.80,840.30" stroke="#000" stroke-width="1.35"/>
<path d="M802.79,828.85L801.35,829.40L800.87,830.49L800.87,831.58L801.35,832.67L802.31,833.21L804.23,833.76L805.66,834.30L806.62,835.39L807.10,836.48L807.10,838.12L806.62,839.21L806.14,839.75L804.71,840.30L802.79,840.30L801.35,839.75L800.87,839.21L800.39,838.12L800.39,836.48L800.87,835.39L801.83,834.30L803.27,833.76L805.18,833.21L806.14,832.67L806.62,831.58L806.62,830.49L806.14,829.40L804.71,828.85L802.79,828.85M810.93,828.85L816.20,828.85L813.33,833.21L814.76,833.21L815.72,833.76L816.20,834.30L816.68,835.94L816.68,837.03L816.20,838.66L815.24,839.75L813.81,840.30L812.37,840.30L810.93,839.75L810.45,839.21L809.97,838.12M820.51,839.21L820.03,839.75L820.51,840.30L820.99,839.75L820.51,839.21M825.78,831.03L826.74,830.49L828.18,828.85L828.18,840.30M833.45,828.85L835.84,840.30M838.24,828.85L835.84,840.30M838.24,828.85L840.63,840.30M843.03,828.85L840.63,840.30" stroke="#000" stroke-width="1.35"/>
<path d="M860.62,828.85L859.18,829.40L858.70,830.49L858.70,831.58L859.18,832.67L860.14,833.21L862.06,833.76L863.49,834.30L864.45,835.39L864.93,836.48L864.93,838.12L864.45,839.21L863.97,839.75L862.53,840.30L860.62,840.30L859.18,839.75L858.70,839.21L858.22,838.12L858.22,836.48L858.70,835.39L859.66,834.30L861.10,833.76L863.01,833.21L863.97,832.67L864.45,831.58L864.45,830.49L863.97,829.40L862.53,828.85L860.62,828.85M868.28,831.58L868.28,831.03L868.76,829.94L869.24,829.40L870.20,828.85L872.12,828.85L873.07,829.40L873.55,829.94L874.03,831.03L874.03,832.12L873.55,833.21L872.59,834.85L867.80,840.30L874.51,840.30M878.34,839.21L877.86,839.75L878.34,840.30L878.82,839.75L878.34,839.21M884.57,828.85L883.13,829.40L882.65,830.49L882.65,831.58L883.13,832.67L884.09,833.21L886.01,833.76L887.44,834.30L888.40,835.39L888.88,836.48L888.88,838.12L888.40,839.21L887.92,839.75L886.49,840.30L884.57,840.30L883.13,839.75L882.65,839.21L882.17,838.12L882.17,836.48L882.65,835.39L883.61,834.30L885.05,833.76L886.96,833.21L887.92,832.67L888.40,831.58L888.40,830.49L887.92,829.40L886.49,828.85L884.57,828.85M891.27,828.85L893.67,840.30M896.07,828.85L893.67,840.30M896.07,828.85L898.46,840.30M900.86,828.85L898.46,840.30" stroke="#000" stroke-width="1.35"/>
</g><g>
<text x="252.0" y="130.0" font-size="16" text-anchor="end">11.1N</text>
<text x="252.0" y="197.4" font-size="16" text-anchor="end">10.8N</text>
<text x="252.0" y="264.8" font-size="16" text-anchor="end">10.5N</text>
<text x="252.0" y="332.2" font-size="16" text-anchor="end">10.2N</text>
<text x="252.0" y="399.6" font-size="16" text-anchor="end">9.9N</text>
<text x="252.0" y="467.0" font-size="16" text-anchor="end">9.6N</text>
<text x="252.0" y="534.4" font-size="16" text-anchor="end">9.3N</text>
<text x="252.0" y="601.8" font-size="16" text-anchor="end">9N</text>
<text x="252.0" y="669.2" font-size="16" text-anchor="end">8.7N</text>
<text x="252.0" y="736.6" font-size="16" text-anchor="end">8.4N</text>
<text x="252.0" y="804.0" font-size="16" text-anchor="end">8.1N</text>
<text x="301.2" y="840.3" font-size="16" text-anchor="middle">85.8W</text>
<text x="359.0" y="840.3" font-size="16" text-anchor="middle">85.5W</text>
<text x="416.9" y="840.3" font-size="16" text-anchor="middle">85.2W</text>
<text x="474.7" y="840.3" font-size="16" text-anchor="middle">84.9W</text>
<text x="532.5" y="840.3" font-size="16" text-anchor="middle">84.6W</text>
<text x="590.3" y="840.3" font-size="16" text-anchor="middle">84.3W</text>
<text x="648.2" y="840.3" font-size="16" text-anchor="middle">84W</text>
<text x="706.0" y="840.3" font-size="16" text-anchor="middle">83.7W</text>
<text x="763.8" y="840.3" font-size="16" text-anchor="middle">83.4W</text>
<text x="821.7" y="840.3" font-size="16" text-anchor="middle">83.1W</text>
<text x="879.5" y="840.3" font-size="16" text-anchor="middle">82.8W</text>
</g>
<g class="h">
<path d="M128.30,8.55L128.30,29.45M135.94,8.55L135.94,29.45M135.94,8.55L143.58,29.45M151.22,8.55L143.58,29.45M151.22,8.55L151.22,29.45M158.86,8.55L158.86,29.45M158.86,8.55L172.23,29.45M172.23,8.55L172.23,29.45M195.15,4.57L177.96,36.41M198.97,8.55L203.74,29.45M208.52,8.55L203.74,29.45M208.52,8.55L213.29,29.45M218.07,8.55L213.29,29.45M223.80,8.55L223.80,29.45M223.80,8.55L232.39,8.55L235.26,9.55L236.21,10.54L237.17,12.54L237.17,14.52L236.21,16.52L235.26,17.51L232.39,18.50L223.80,18.50M230.48,18.50L237.17,29.45M243.85,8.55L243.85,29.45M243.85,8.55L256.27,8.55M243.85,18.50L251.49,18.50M261.04,20.49L278.23,20.49M287.78,12.54L289.69,11.54L292.56,8.55L292.56,29.45M306.88,12.54L308.79,11.54L311.66,8.55L311.66,29.45" stroke="#000" stroke-width="1.6"/>
<path d="M340.80,8.55L340.80,29.45M340.80,8.55L349.40,8.55L352.26,9.55L353.22,10.54L354.17,12.54L354.17,15.52L353.22,17.51L352.26,18.50L349.40,19.50L340.80,19.50M360.86,15.52L360.86,29.45M360.86,21.49L361.81,18.50L363.72,16.52L365.63,15.52L368.50,15.52M372.32,21.49L383.78,21.49L383.78,19.50L382.82,17.51L381.87,16.52L379.96,15.52L377.09,15.52L375.18,16.52L373.27,18.50L372.32,21.49L372.32,23.48L373.27,26.46L375.18,28.45L377.09,29.45L379.96,29.45L381.87,28.45L383.78,26.46M400.97,18.50L399.06,16.52L397.15,15.52L394.28,15.52L392.37,16.52L390.46,18.50L389.51,21.49L389.51,23.48L390.46,26.46L392.37,28.45L394.28,29.45L397.15,29.45L399.06,28.45L400.97,26.46M406.70,8.55L407.65,9.55L408.61,8.55L407.65,7.56L406.70,8.55M407.65,15.52L407.65,29.45M415.29,15.52L415.29,36.41M415.29,18.50L417.20,16.52L419.11,15.52L421.98,15.52L423.89,16.52L425.80,18.50L426.75,21.49L426.75,23.48L425.80,26.46L423.89,28.45L421.98,29.45L419.11,29.45L417.20,28.45L415.29,26.46M432.48,8.55L433.44,9.55L434.39,8.55L433.44,7.56L432.48,8.55M433.44,15.52L433.44,29.45M442.03,8.55L442.03,25.47L442.99,28.45L444.89,29.45L446.81,29.45M439.17,15.52L445.85,15.52M463.04,15.52L463.04,29.45M463.04,18.50L461.13,16.52L459.22,15.52L456.35,15.52L454.44,16.52L452.53,18.50L451.58,21.49L451.58,23.48L452.53,26.46L454.44,28.45L456.35,29.45L459.22,29.45L461.13,28.45L463.04,26.46M481.18,18.50L479.27,16.52L477.36,15.52L474.50,15.52L472.59,16.52L470.68,18.50L469.72,21.49L469.72,23.48L470.68,26.46L472.59,28.45L474.50,29.45L477.36,29.45L479.27,28.45L481.18,26.46M486.91,8.55L487.87,9.55L488.82,8.55L487.87,7.56L486.91,8.55M487.87,15.52L487.87,29.45M499.33,15.52L497.42,16.52L495.51,18.50L494.55,21.49L494.55,23.48L495.51,26.46L497.42,28.45L499.33,29.45L502.19,29.45L504.10,28.45L506.01,26.46L506.97,23.48L506.97,21.49L506.01,18.50L504.10,16.52L502.19,15.52L499.33,15.52M513.65,15.52L513.65,29.45M513.65,19.50L516.52,16.52L518.43,15.52L521.29,15.52L523.20,16.52L524.16,19.50L524.16,29.45" stroke="#000" stroke-width="1.6"/>
<path d="M554.25,8.55L546.61,29.45M554.25,8.55L561.88,29.45M549.47,22.48L559.02,22.48M577.16,18.50L575.25,16.52L573.34,15.52L570.48,15.52L568.57,16.52L566.66,18.50L565.70,21.49L565.70,23.48L566.66,26.46L568.57,28.45L570.48,29.45L573.34,29.45L575.25,28.45L577.16,26.46M583.85,15.52L583.85,25.47L584.80,28.45L586.71,29.45L589.58,29.45L591.49,28.45L594.36,25.47M594.36,15.52L594.36,29.45M602.00,15.52L602.00,29.45M602.00,19.50L604.86,16.52L606.77,15.52L609.63,15.52L611.54,16.52L612.50,19.50L612.50,29.45M612.50,19.50L615.37,16.52L617.27,15.52L620.14,15.52L622.05,16.52L623.00,19.50L623.00,29.45M630.64,15.52L630.64,25.47L631.60,28.45L633.51,29.45L636.37,29.45L638.28,28.45L641.15,25.47M641.15,15.52L641.15,29.45M648.79,8.55L648.79,29.45M666.93,15.52L666.93,29.45M666.93,18.50L665.02,16.52L663.11,15.52L660.25,15.52L658.34,16.52L656.43,18.50L655.47,21.49L655.47,23.48L656.43,26.46L658.34,28.45L660.25,29.45L663.11,29.45L665.02,28.45L666.93,26.46M685.08,8.55L685.08,29.45M685.08,18.50L683.17,16.52L681.26,15.52L678.39,15.52L676.48,16.52L674.57,18.50L673.62,21.49L673.62,23.48L674.57,26.46L676.48,28.45L678.39,29.45L681.26,29.45L683.17,28.45L685.08,26.46M703.22,15.52L703.22,29.45M703.22,18.50L701.31,16.52L699.40,15.52L696.54,15.52L694.63,16.52L692.72,18.50L691.76,21.49L691.76,23.48L692.72,26.46L694.63,28.45L696.54,29.45L699.40,29.45L701.31,28.45L703.22,26.46" stroke="#000" stroke-width="1.6"/>
<path d="M738.56,8.55L738.56,29.45M738.56,18.50L736.64,16.52L734.74,15.52L731.87,15.52L729.96,16.52L728.05,18.50L727.10,21.49L727.10,23.48L728.05,26.46L729.96,28.45L731.87,29.45L734.74,29.45L736.64,28.45L738.56,26.46M746.20,15.52L746.20,25.47L747.15,28.45L749.06,29.45L751.92,29.45L753.84,28.45L756.70,25.47M756.70,15.52L756.70,29.45M764.34,15.52L764.34,29.45M764.34,21.49L765.29,18.50L767.20,16.52L769.12,15.52L771.98,15.52M787.26,15.52L787.26,29.45M787.26,18.50L785.35,16.52L783.44,15.52L780.57,15.52L778.66,16.52L776.75,18.50L775.80,21.49L775.80,23.48L776.75,26.46L778.66,28.45L780.57,29.45L783.44,29.45L785.35,28.45L787.26,26.46M794.90,15.52L794.90,29.45M794.90,19.50L797.76,16.52L799.67,15.52L802.54,15.52L804.45,16.52L805.40,19.50L805.40,29.45M814.00,8.55L814.00,25.47L814.95,28.45L816.86,29.45L818.77,29.45M811.13,15.52L817.82,15.52M823.55,21.49L835.01,21.49L835.01,19.50L834.05,17.51L833.10,16.52L831.19,15.52L828.32,15.52L826.41,16.52L824.50,18.50L823.55,21.49L823.55,23.48L824.50,26.46L826.41,28.45L828.32,29.45L831.19,29.45L833.10,28.45L835.01,26.46" stroke="#000" stroke-width="1.6"/>
<path d="M859.70,8.55L870.21,8.55L864.48,16.52L867.34,16.52L869.25,17.51L870.21,18.50L871.16,21.49L871.16,23.48L870.21,26.46L868.30,28.45L865.43,29.45L862.57,29.45L859.70,28.45L858.75,27.46L857.79,25.47" stroke="#000" stroke-width="1.6"/>
<path d="M895.50,8.55L895.50,29.45M895.50,19.50L898.36,16.52L900.27,15.52L903.14,15.52L905.05,16.52L906.00,19.50L906.00,29.45M917.46,15.52L915.55,16.52L913.64,18.50L912.69,21.49L912.69,23.48L913.64,26.46L915.55,28.45L917.46,29.45L920.33,29.45L922.24,28.45L924.15,26.46L925.10,23.48L925.10,21.49L924.15,18.50L922.24,16.52L920.33,15.52L917.46,15.52M931.79,15.52L931.79,29.45M931.79,21.49L932.74,18.50L934.65,16.52L936.56,15.52L939.43,15.52M954.71,15.52L954.71,29.45M954.71,18.50L952.80,16.52L950.89,15.52L948.02,15.52L946.11,16.52L944.20,18.50L943.25,21.49L943.25,23.48L944.20,26.46L946.11,28.45L948.02,29.45L950.89,29.45L952.80,28.45L954.71,26.46M971.90,18.50L970.94,16.52L968.08,15.52L965.21,15.52L962.35,16.52L961.39,18.50L962.35,20.49L964.26,21.49L969.03,22.48L970.94,23.48L971.90,25.47L971.90,26.46L970.94,28.45L968.08,29.45L965.21,29.45L962.35,28.45L961.39,26.46" stroke="#000" stroke-width="1.6"/>
<path d="M1001.68,4.57L999.77,6.56L997.86,9.55L995.95,13.53L995.00,18.50L995.00,22.48L995.95,27.46L997.86,31.44L999.77,34.42L1001.68,36.41M1008.37,15.52L1008.37,29.45M1008.37,19.50L1011.23,16.52L1013.14,15.52L1016.01,15.52L1017.92,16.52L1018.88,19.50L1018.88,29.45M1018.88,19.50L1021.74,16.52L1023.65,15.52L1026.51,15.52L1028.42,16.52L1029.38,19.50L1029.38,29.45M1037.02,15.52L1037.02,29.45M1037.02,19.50L1039.88,16.52L1041.80,15.52L1044.66,15.52L1046.57,16.52L1047.53,19.50L1047.53,29.45M1047.53,19.50L1050.39,16.52L1052.30,15.52L1055.16,15.52L1057.08,16.52L1058.03,19.50L1058.03,29.45M1064.72,4.57L1066.63,6.56L1068.54,9.55L1070.45,13.53L1071.40,18.50L1071.40,22.48L1070.45,27.46L1068.54,31.44L1066.63,34.42L1064.72,36.41" stroke="#000" stroke-width="1.6"/>
<path d="M465.95,45.06L465.95,44.07L466.90,42.09L467.86,41.10L469.76,40.11L473.56,40.11L475.46,41.10L476.41,42.09L477.37,44.07L477.37,46.05L476.41,48.03L474.51,51.00L465.00,60.90L478.32,60.90M489.73,40.11L486.88,41.10L484.97,44.07L484.02,49.02L484.02,51.99L484.97,56.94L486.88,59.91L489.73,60.90L491.63,60.90L494.48,59.91L496.39,56.94L497.34,51.99L497.34,49.02L496.39,44.07L494.48,41.10L491.63,40.11L489.73,40.11M503.99,45.06L503.99,44.07L504.94,42.09L505.90,41.10L507.80,40.11L511.60,40.11L513.50,41.10L514.45,42.09L515.41,44.07L515.41,46.05L514.45,48.03L512.55,51.00L503.04,60.90L516.36,60.90M533.47,40.11L523.96,40.11L523.01,49.02L523.96,48.03L526.82,47.04L529.67,47.04L532.52,48.03L534.43,50.01L535.38,52.98L535.38,54.96L534.43,57.93L532.52,59.91L529.67,60.90L526.82,60.90L523.96,59.91L523.01,58.92L522.06,56.94M542.03,51.99L559.15,51.99M571.51,40.11L568.66,41.10L566.76,44.07L565.81,49.02L565.81,51.99L566.76,56.94L568.66,59.91L571.51,60.90L573.42,60.90L576.27,59.91L578.17,56.94L579.12,51.99L579.12,49.02L578.17,44.07L576.27,41.10L573.42,40.11L571.51,40.11M597.19,47.04L596.24,50.01L594.34,51.99L591.49,52.98L590.53,52.98L587.68,51.99L585.78,50.01L584.83,47.04L584.83,46.05L585.78,43.08L587.68,41.10L590.53,40.11L591.49,40.11L594.34,41.10L596.24,43.08L597.19,47.04L597.19,51.99L596.24,56.94L594.34,59.91L591.49,60.90L589.58,60.90L586.73,59.91L585.78,57.93M604.80,51.99L621.92,51.99M634.28,40.11L631.43,41.10L629.53,44.07L628.57,49.02L628.57,51.99L629.53,56.94L631.43,59.91L634.28,60.90L636.18,60.90L639.04,59.91L640.94,56.94L641.89,51.99L641.89,49.02L640.94,44.07L639.04,41.10L636.18,40.11L634.28,40.11M650.45,44.07L652.35,43.08L655.20,40.11L655.20,60.90" stroke="#000" stroke-width="1.6"/>
<path d="M689.81,40.11L686.96,41.10L685.05,44.07L684.10,49.02L684.10,51.99L685.05,56.94L686.96,59.91L689.81,60.90L691.71,60.90L694.56,59.91L696.47,56.94L697.42,51.99L697.42,49.02L696.47,44.07L694.56,41.10L691.71,40.11L689.81,40.11M705.02,40.11L715.49,40.11L709.78,48.03L712.63,48.03L714.53,49.02L715.49,50.01L716.44,52.98L716.44,54.96L715.49,57.93L713.58,59.91L710.73,60.90L707.88,60.90L705.02,59.91L704.07,58.92L703.12,56.94M735.46,40.11L722.14,60.90M722.14,40.11L735.46,40.11M722.14,60.90L735.46,60.90" stroke="#000" stroke-width="1.6"/>
</g><g>
<text x="600.0" y="29.2" font-size="29" text-anchor="middle">IMN/WRF-11 Precipitacion Acumulada durante 3 horas (mm)</text>
<text x="600.0" y="60.9" font-size="29" text-anchor="middle">2025-09-01 03Z</text>
</g>
<g class="h">
<path d="M330.25,860.50L330.25,876.00M336.86,865.67L336.86,876.00M336.86,868.62L339.34,866.41L340.99,865.67L343.47,865.67L345.12,866.41L345.95,868.62L345.95,876.00M360.82,867.88L359.99,866.41L357.51,865.67L355.03,865.67L352.56,866.41L351.73,867.88L352.56,869.36L354.21,870.10L358.34,870.83L359.99,871.57L360.82,873.05L360.82,873.79L359.99,875.26L357.51,876.00L355.03,876.00L352.56,875.26L351.73,873.79M367.42,860.50L367.42,873.05L368.25,875.26L369.90,876.00L371.55,876.00M364.95,865.67L370.73,865.67M375.68,860.50L376.51,861.24L377.34,860.50L376.51,859.76L375.68,860.50M376.51,865.67L376.51,876.00M383.94,860.50L383.94,873.05L384.77,875.26L386.42,876.00L388.07,876.00M381.47,865.67L387.25,865.67M393.03,865.67L393.03,873.05L393.86,875.26L395.51,876.00L397.99,876.00L399.64,875.26L402.12,873.05M402.12,865.67L402.12,876.00M409.55,860.50L409.55,873.05L410.38,875.26L412.03,876.00L413.68,876.00M407.07,865.67L412.85,865.67M421.94,865.67L420.29,866.41L418.64,867.88L417.81,870.10L417.81,871.57L418.64,873.79L420.29,875.26L421.94,876.00L424.42,876.00L426.07,875.26L427.72,873.79L428.55,871.57L428.55,870.10L427.72,867.88L426.07,866.41L424.42,865.67L421.94,865.67" stroke="#000" stroke-width="1.15"/>
<path d="M448.00,860.50L448.00,876.00M448.00,860.50L454.60,876.00M461.19,860.50L454.60,876.00M461.19,860.50L461.19,876.00M466.96,870.10L476.86,870.10L476.86,868.62L476.03,867.14L475.21,866.41L473.56,865.67L471.09,865.67L469.44,866.41L467.79,867.88L466.96,870.10L466.96,871.57L467.79,873.79L469.44,875.26L471.09,876.00L473.56,876.00L475.21,875.26L476.86,873.79M483.46,860.50L483.46,873.05L484.28,875.26L485.93,876.00L487.58,876.00M480.98,865.67L486.75,865.67M491.70,870.10L501.60,870.10L501.60,868.62L500.77,867.14L499.95,866.41L498.30,865.67L495.83,865.67L494.18,866.41L492.53,867.88L491.70,870.10L491.70,871.57L492.53,873.79L494.18,875.26L495.83,876.00L498.30,876.00L499.95,875.26L501.60,873.79M510.67,865.67L509.02,866.41L507.37,867.88L506.54,870.10L506.54,871.57L507.37,873.79L509.02,875.26L510.67,876.00L513.14,876.00L514.79,875.26L516.44,873.79L517.26,871.57L517.26,870.10L516.44,867.88L514.79,866.41L513.14,865.67L510.67,865.67M523.04,865.67L523.04,876.00M523.04,870.10L523.86,867.88L525.51,866.41L527.16,865.67L529.63,865.67M537.06,865.67L535.41,866.41L533.76,867.88L532.93,870.10L532.93,871.57L533.76,873.79L535.41,875.26L537.06,876.00L539.53,876.00L541.18,875.26L542.83,873.79L543.65,871.57L543.65,870.10L542.83,867.88L541.18,866.41L539.53,865.67L537.06,865.67M549.42,860.50L549.42,876.00M559.32,865.67L557.67,866.41L556.02,867.88L555.20,870.10L555.20,871.57L556.02,873.79L557.67,875.26L559.32,876.00L561.79,876.00L563.44,875.26L565.09,873.79L565.92,871.57L565.92,870.10L565.09,867.88L563.44,866.41L561.79,865.67L559.32,865.67M580.76,865.67L580.76,877.48L579.93,879.69L579.11,880.43L577.46,881.17L574.99,881.17L573.34,880.43M580.76,867.88L579.11,866.41L577.46,865.67L574.99,865.67L573.34,866.41L571.69,867.88L570.86,870.10L570.86,871.57L571.69,873.79L573.34,875.26L574.99,876.00L577.46,876.00L579.11,875.26L580.76,873.79M586.53,860.50L587.36,861.24L588.18,860.50L587.36,859.76L586.53,860.50M587.36,865.67L587.36,876.00M603.02,867.88L601.37,866.41L599.72,865.67L597.25,865.67L595.60,866.41L593.95,867.88L593.13,870.10L593.13,871.57L593.95,873.79L595.60,875.26L597.25,876.00L599.72,876.00L601.37,875.26L603.02,873.79M612.09,865.67L610.44,866.41L608.80,867.88L607.97,870.10L607.97,871.57L608.80,873.79L610.44,875.26L612.09,876.00L614.57,876.00L616.22,875.26L617.87,873.79L618.69,871.57L618.69,870.10L617.87,867.88L616.22,866.41L614.57,865.67L612.09,865.67" stroke="#000" stroke-width="1.15"/>
<path d="M638.37,860.50L638.37,876.00M638.37,860.50L649.82,876.00M649.82,860.50L649.82,876.00M665.37,865.67L665.37,876.00M665.37,867.88L663.73,866.41L662.09,865.67L659.64,865.67L658.00,866.41L656.37,867.88L655.55,870.10L655.55,871.57L656.37,873.79L658.00,875.26L659.64,876.00L662.09,876.00L663.73,875.26L665.37,873.79M680.91,867.88L679.27,866.41L677.64,865.67L675.18,865.67L673.55,866.41L671.91,867.88L671.09,870.10L671.09,871.57L671.91,873.79L673.55,875.26L675.18,876.00L677.64,876.00L679.27,875.26L680.91,873.79M685.82,860.50L686.63,861.24L687.45,860.50L686.63,859.76L685.82,860.50M686.63,865.67L686.63,876.00M696.45,865.67L694.81,866.41L693.18,867.88L692.36,870.10L692.36,871.57L693.18,873.79L694.81,875.26L696.45,876.00L698.90,876.00L700.54,875.26L702.18,873.79L702.99,871.57L702.99,870.10L702.18,867.88L700.54,866.41L698.90,865.67L696.45,865.67M708.72,865.67L708.72,876.00M708.72,868.62L711.17,866.41L712.81,865.67L715.26,865.67L716.90,866.41L717.72,868.62L717.72,876.00M733.26,865.67L733.26,876.00M733.26,867.88L731.62,866.41L729.99,865.67L727.53,865.67L725.90,866.41L724.26,867.88L723.44,870.10L723.44,871.57L724.26,873.79L725.90,875.26L727.53,876.00L729.99,876.00L731.62,875.26L733.26,873.79M739.80,860.50L739.80,876.00" stroke="#000" stroke-width="1.15"/>
<path d="M772.81,864.19L771.99,862.72L770.35,861.24L768.70,860.50L765.41,860.50L763.76,861.24L762.12,862.72L761.29,864.19L760.47,866.41L760.47,870.10L761.29,872.31L762.12,873.79L763.76,875.26L765.41,876.00L768.70,876.00L770.35,875.26L771.99,873.79L772.81,872.31M781.87,865.67L780.22,866.41L778.58,867.88L777.75,870.10L777.75,871.57L778.58,873.79L780.22,875.26L781.87,876.00L784.34,876.00L785.98,875.26L787.63,873.79L788.45,871.57L788.45,870.10L787.63,867.88L785.98,866.41L784.34,865.67L781.87,865.67M802.44,867.88L801.62,866.41L799.15,865.67L796.68,865.67L794.21,866.41L793.39,867.88L794.21,869.36L795.86,870.10L799.97,870.83L801.62,871.57L802.44,873.05L802.44,873.79L801.62,875.26L799.15,876.00L796.68,876.00L794.21,875.26L793.39,873.79M809.03,860.50L809.03,873.05L809.85,875.26L811.49,876.00L813.14,876.00M806.56,865.67L812.32,865.67M827.13,865.67L827.13,876.00M827.13,867.88L825.49,866.41L823.84,865.67L821.37,865.67L819.72,866.41L818.08,867.88L817.26,870.10L817.26,871.57L818.08,873.79L819.72,875.26L821.37,876.00L823.84,876.00L825.49,875.26L827.13,873.79" stroke="#000" stroke-width="1.15"/>
<path d="M847.51,860.50L847.51,876.00M847.51,860.50L854.96,860.50L857.45,861.24L858.28,861.98L859.10,863.45L859.10,864.93L858.28,866.41L857.45,867.14L854.96,867.88L847.51,867.88M853.31,867.88L859.10,876.00M864.07,860.50L864.90,861.24L865.73,860.50L864.90,859.76L864.07,860.50M864.90,865.67L864.90,876.00M880.63,867.88L878.98,866.41L877.32,865.67L874.84,865.67L873.18,866.41L871.52,867.88L870.70,870.10L870.70,871.57L871.52,873.79L873.18,875.26L874.84,876.00L877.32,876.00L878.98,875.26L880.63,873.79M895.54,865.67L895.54,876.00M895.54,867.88L893.88,866.41L892.22,865.67L889.74,865.67L888.08,866.41L886.43,867.88L885.60,870.10L885.60,871.57L886.43,873.79L888.08,875.26L889.74,876.00L892.22,876.00L893.88,875.26L895.54,873.79" stroke="#000" stroke-width="1.15"/>
</g>
<text x="613.5" y="876.0" font-size="21" text-anchor="middle">Instituto Meteorologico Nacional Costa Rica</text>
<g stroke="#000" stroke-width="1.25" stroke-linejoin="miter" stroke-miterlimit="10">
<path d="M1057.85,132.25L1068.78,91.0L1079.7,132.25Z" fill="#aaaaaa"/>
<rect x="1057.85" y="132.25" width="21.85" height="42.36" fill="#f5f5f5"/>
<rect x="1057.85" y="174.61" width="21.85" height="42.36" fill="#9932cc"/>
<rect x="1057.85" y="216.96" width="21.85" height="42.36" fill="#ff00ff"/>
<rect x="1057.85" y="259.32" width="21.85" height="42.36" fill="#990000"/>
<rect x="1057.85" y="301.68" width="21.85" height="42.36" fill="#cc3300"/>
<rect x="1057.85" y="344.03" width="21.85" height="42.36" fill="#ff0000"/>
<rect x="1057.85" y="386.39" width="21.85" height="42.36" fill="#ff6600"/>
<rect x="1057.85" y="428.75" width="21.85" height="42.36" fill="#ffcc00"/>
<rect x="1057.85" y="471.10" width="21.85" height="42.36" fill="#ffff00"/>
<rect x="1057.85" y="513.46" width="21.85" height="42.36" fill="#009900"/>
<rect x="1057.85" y="555.82" width="21.85" height="42.36" fill="#00cc00"/>
<rect x="1057.85" y="598.17" width="21.85" height="42.36" fill="#00ff00"/>
<rect x="1057.85" y="640.53" width="21.85" height="42.36" fill="#0000ff"/>
<rect x="1057.85" y="682.89" width="21.85" height="42.36" fill="#3399ff"/>
<rect x="1057.85" y="725.24" width="21.85" height="42.36" fill="#66ffff"/>
<path d="M1057.85,767.6L1068.78,808.8L1079.7,767.6Z" fill="#fff"/>
</g><g class="h">
<path d="M1087.88,129.02L1087.88,128.39L1088.52,127.12L1089.17,126.49L1090.46,125.86L1093.04,125.86L1094.33,126.49L1094.97,127.12L1095.62,128.39L1095.62,129.66L1094.97,130.92L1093.68,132.82L1087.23,139.15L1096.26,139.15M1104.01,125.86L1102.07,126.49L1100.78,128.39L1100.13,131.55L1100.13,133.45L1100.78,136.62L1102.07,138.52L1104.01,139.15L1105.30,139.15L1107.23,138.52L1108.52,136.62L1109.16,133.45L1109.16,131.55L1108.52,128.39L1107.23,126.49L1105.30,125.86L1104.01,125.86M1116.91,125.86L1114.97,126.49L1113.68,128.39L1113.04,131.55L1113.04,133.45L1113.68,136.62L1114.97,138.52L1116.91,139.15L1118.20,139.15L1120.13,138.52L1121.42,136.62L1122.07,133.45L1122.07,131.55L1121.42,128.39L1120.13,126.49L1118.20,125.86L1116.91,125.86" stroke="#000" stroke-width="1.5"/>
<path d="M1089.17,170.75L1090.46,170.11L1092.39,168.21L1092.39,181.51M1107.88,168.21L1101.42,168.21L1100.78,173.91L1101.42,173.28L1103.36,172.64L1105.30,172.64L1107.23,173.28L1108.52,174.54L1109.16,176.44L1109.16,177.71L1108.52,179.61L1107.23,180.87L1105.30,181.51L1103.36,181.51L1101.42,180.87L1100.78,180.24L1100.13,178.97M1116.91,168.21L1114.97,168.85L1113.68,170.75L1113.04,173.91L1113.04,175.81L1113.68,178.97L1114.97,180.87L1116.91,181.51L1118.20,181.51L1120.13,180.87L1121.42,178.97L1122.07,175.81L1122.07,173.91L1121.42,170.75L1120.13,168.85L1118.20,168.21L1116.91,168.21" stroke="#000" stroke-width="1.5"/>
<path d="M1089.17,213.10L1090.46,212.47L1092.39,210.57L1092.39,223.86M1100.78,213.74L1100.78,213.10L1101.42,211.84L1102.07,211.20L1103.36,210.57L1105.94,210.57L1107.23,211.20L1107.88,211.84L1108.52,213.10L1108.52,214.37L1107.88,215.63L1106.59,217.53L1100.13,223.86L1109.16,223.86M1116.91,210.57L1114.97,211.20L1113.68,213.10L1113.04,216.27L1113.04,218.17L1113.68,221.33L1114.97,223.23L1116.91,223.86L1118.20,223.86L1120.13,223.23L1121.42,221.33L1122.07,218.17L1122.07,216.27L1121.42,213.10L1120.13,211.20L1118.20,210.57L1116.91,210.57" stroke="#000" stroke-width="1.5"/>
<path d="M1089.17,255.46L1090.46,254.83L1092.39,252.93L1092.39,266.22M1104.01,252.93L1102.07,253.56L1100.78,255.46L1100.13,258.62L1100.13,260.52L1100.78,263.69L1102.07,265.59L1104.01,266.22L1105.30,266.22L1107.23,265.59L1108.52,263.69L1109.16,260.52L1109.16,258.62L1108.52,255.46L1107.23,253.56L1105.30,252.93L1104.01,252.93M1116.91,252.93L1114.97,253.56L1113.68,255.46L1113.04,258.62L1113.04,260.52L1113.68,263.69L1114.97,265.59L1116.91,266.22L1118.20,266.22L1120.13,265.59L1121.42,263.69L1122.07,260.52L1122.07,258.62L1121.42,255.46L1120.13,253.56L1118.20,252.93L1116.91,252.93" stroke="#000" stroke-width="1.5"/>
<path d="M1095.62,299.71L1094.97,301.61L1093.68,302.88L1091.75,303.51L1091.11,303.51L1089.17,302.88L1087.88,301.61L1087.23,299.71L1087.23,299.08L1087.88,297.18L1089.17,295.92L1091.11,295.28L1091.75,295.28L1093.68,295.92L1094.97,297.18L1095.62,299.71L1095.62,302.88L1094.97,306.04L1093.68,307.94L1091.75,308.58L1090.46,308.58L1088.52,307.94L1087.88,306.68M1104.01,295.28L1102.07,295.92L1100.78,297.82L1100.13,300.98L1100.13,302.88L1100.78,306.04L1102.07,307.94L1104.01,308.58L1105.30,308.58L1107.23,307.94L1108.52,306.04L1109.16,302.88L1109.16,300.98L1108.52,297.82L1107.23,295.92L1105.30,295.28L1104.01,295.28" stroke="#000" stroke-width="1.5"/>
<path d="M1096.26,337.64L1089.82,350.93M1087.23,337.64L1096.26,337.64M1107.88,337.64L1101.42,337.64L1100.78,343.34L1101.42,342.70L1103.36,342.07L1105.30,342.07L1107.23,342.70L1108.52,343.97L1109.16,345.87L1109.16,347.14L1108.52,349.03L1107.23,350.30L1105.30,350.93L1103.36,350.93L1101.42,350.30L1100.78,349.67L1100.13,348.40" stroke="#000" stroke-width="1.5"/>
<path d="M1095.62,381.90L1094.97,380.63L1093.04,380.00L1091.75,380.00L1089.82,380.63L1088.52,382.53L1087.88,385.69L1087.88,388.86L1088.52,391.39L1089.82,392.66L1091.75,393.29L1092.39,393.29L1094.33,392.66L1095.62,391.39L1096.26,389.49L1096.26,388.86L1095.62,386.96L1094.33,385.69L1092.39,385.06L1091.75,385.06L1089.82,385.69L1088.52,386.96L1087.88,388.86M1104.01,380.00L1102.07,380.63L1100.78,382.53L1100.13,385.69L1100.13,387.59L1100.78,390.76L1102.07,392.66L1104.01,393.29L1105.30,393.29L1107.23,392.66L1108.52,390.76L1109.16,387.59L1109.16,385.69L1108.52,382.53L1107.23,380.63L1105.30,380.00L1104.01,380.00" stroke="#000" stroke-width="1.5"/>
<path d="M1094.97,422.35L1088.52,422.35L1087.88,428.05L1088.52,427.42L1090.46,426.78L1092.39,426.78L1094.33,427.42L1095.62,428.68L1096.26,430.58L1096.26,431.85L1095.62,433.75L1094.33,435.01L1092.39,435.65L1090.46,435.65L1088.52,435.01L1087.88,434.38L1087.23,433.11M1104.01,422.35L1102.07,422.99L1100.78,424.89L1100.13,428.05L1100.13,429.95L1100.78,433.11L1102.07,435.01L1104.01,435.65L1105.30,435.65L1107.23,435.01L1108.52,433.11L1109.16,429.95L1109.16,428.05L1108.52,424.89L1107.23,422.99L1105.30,422.35L1104.01,422.35" stroke="#000" stroke-width="1.5"/>
<path d="M1093.68,464.71L1087.23,473.57L1096.91,473.57M1093.68,464.71L1093.68,478.00M1104.01,464.71L1102.07,465.34L1100.78,467.24L1100.13,470.41L1100.13,472.31L1100.78,475.47L1102.07,477.37L1104.01,478.00L1105.30,478.00L1107.23,477.37L1108.52,475.47L1109.16,472.31L1109.16,470.41L1108.52,467.24L1107.23,465.34L1105.30,464.71L1104.01,464.71" stroke="#000" stroke-width="1.5"/>
<path d="M1088.52,507.07L1095.62,507.07L1091.75,512.13L1093.68,512.13L1094.97,512.76L1095.62,513.40L1096.26,515.30L1096.26,516.56L1095.62,518.46L1094.33,519.73L1092.39,520.36L1090.46,520.36L1088.52,519.73L1087.88,519.09L1087.23,517.83M1104.01,507.07L1102.07,507.70L1100.78,509.60L1100.13,512.76L1100.13,514.66L1100.78,517.83L1102.07,519.73L1104.01,520.36L1105.30,520.36L1107.23,519.73L1108.52,517.83L1109.16,514.66L1109.16,512.76L1108.52,509.60L1107.23,507.70L1105.30,507.07L1104.01,507.07" stroke="#000" stroke-width="1.5"/>
<path d="M1087.88,552.59L1087.88,551.96L1088.52,550.69L1089.17,550.06L1090.46,549.42L1093.04,549.42L1094.33,550.06L1094.97,550.69L1095.62,551.96L1095.62,553.22L1094.97,554.49L1093.68,556.39L1087.23,562.72L1096.26,562.72M1107.88,549.42L1101.42,549.42L1100.78,555.12L1101.42,554.49L1103.36,553.85L1105.30,553.85L1107.23,554.49L1108.52,555.75L1109.16,557.65L1109.16,558.92L1108.52,560.82L1107.23,562.08L1105.30,562.72L1103.36,562.72L1101.42,562.08L1100.78,561.45L1100.13,560.18" stroke="#000" stroke-width="1.5"/>
<path d="M1087.88,594.95L1087.88,594.31L1088.52,593.05L1089.17,592.41L1090.46,591.78L1093.04,591.78L1094.33,592.41L1094.97,593.05L1095.62,594.31L1095.62,595.58L1094.97,596.84L1093.68,598.74L1087.23,605.07L1096.26,605.07M1104.01,591.78L1102.07,592.41L1100.78,594.31L1100.13,597.48L1100.13,599.38L1100.78,602.54L1102.07,604.44L1104.01,605.07L1105.30,605.07L1107.23,604.44L1108.52,602.54L1109.16,599.38L1109.16,597.48L1108.52,594.31L1107.23,592.41L1105.30,591.78L1104.01,591.78" stroke="#000" stroke-width="1.5"/>
<path d="M1089.17,636.67L1090.46,636.04L1092.39,634.14L1092.39,647.43M1107.88,634.14L1101.42,634.14L1100.78,639.83L1101.42,639.20L1103.36,638.57L1105.30,638.57L1107.23,639.20L1108.52,640.47L1109.16,642.37L1109.16,643.63L1108.52,645.53L1107.23,646.80L1105.30,647.43L1103.36,647.43L1101.42,646.80L1100.78,646.16L1100.13,644.90" stroke="#000" stroke-width="1.5"/>
<path d="M1089.17,679.03L1090.46,678.39L1092.39,676.49L1092.39,689.79M1100.78,679.66L1100.78,679.03L1101.42,677.76L1102.07,677.13L1103.36,676.49L1105.94,676.49L1107.23,677.13L1107.88,677.76L1108.52,679.03L1108.52,680.29L1107.88,681.56L1106.59,683.46L1100.13,689.79L1109.16,689.79M1114.33,688.52L1113.68,689.15L1114.33,689.79L1114.97,689.15L1114.33,688.52M1127.23,676.49L1120.78,676.49L1120.13,682.19L1120.78,681.56L1122.71,680.92L1124.65,680.92L1126.58,681.56L1127.87,682.82L1128.52,684.72L1128.52,685.99L1127.87,687.89L1126.58,689.15L1124.65,689.79L1122.71,689.79L1120.78,689.15L1120.13,688.52L1119.49,687.25" stroke="#000" stroke-width="1.5"/>
<path d="M1096.26,718.85L1089.82,732.14M1087.23,718.85L1096.26,718.85" stroke="#000" stroke-width="1.5"/>
<path d="M1088.52,761.21L1095.62,761.21L1091.75,766.27L1093.68,766.27L1094.97,766.90L1095.62,767.54L1096.26,769.44L1096.26,770.70L1095.62,772.60L1094.33,773.87L1092.39,774.50L1090.46,774.50L1088.52,773.87L1087.88,773.23L1087.23,771.97M1101.42,773.23L1100.78,773.87L1101.42,774.50L1102.07,773.87L1101.42,773.23M1114.33,761.21L1107.88,761.21L1107.23,766.90L1107.88,766.27L1109.81,765.64L1111.75,765.64L1113.68,766.27L1114.97,767.54L1115.62,769.44L1115.62,770.70L1114.97,772.60L1113.68,773.87L1111.75,774.50L1109.81,774.50L1107.88,773.87L1107.23,773.23L1106.59,771.97" stroke="#000" stroke-width="1.5"/>
</g><g>
<text x="1086.0" y="139.2" font-size="19" text-anchor="start">200</text>
<text x="1086.0" y="181.6" font-size="19" text-anchor="start">150</text>
<text x="1086.0" y="224.0" font-size="19" text-anchor="start">120</text>
<text x="1086.0" y="266.3" font-size="19" text-anchor="start">100</text>
<text x="1086.0" y="308.7" font-size="19" text-anchor="start">90</text>
<text x="1086.0" y="351.0" font-size="19" text-anchor="start">75</text>
<text x="1086.0" y="393.4" font-size="19" text-anchor="start">60</text>
<text x="1086.0" y="435.7" font-size="19" text-anchor="start">50</text>
<text x="1086.0" y="478.1" font-size="19" text-anchor="start">40</text>
<text x="1086.0" y="520.5" font-size="19" text-anchor="start">30</text>
<text x="1086.0" y="562.8" font-size="19" text-anchor="start">25</text>
<text x="1086.0" y="605.2" font-size="19" text-anchor="start">20</text>
<text x="1086.0" y="647.5" font-size="19" text-anchor="start">15</text>
<text x="1086.0" y="689.9" font-size="19" text-anchor="start">12.5</text>
<text x="1086.0" y="732.2" font-size="19" text-anchor="start">7</text>
<text x="1086.0" y="774.6" font-size="19" text-anchor="start">3.5</text>
</g>
</svg>
</body></html>
